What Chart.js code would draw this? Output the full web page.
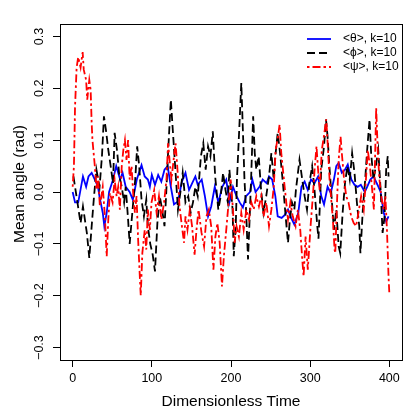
<!DOCTYPE html>
<html>
<head>
<meta charset="utf-8">
<script src="https://cdn.jsdelivr.net/npm/chart.js@4.4.1/dist/chart.umd.min.js"></script>
<style>
  body { margin: 0; background: #fff; }
  canvas { display: block; }
</style>
</head>
<body>
<canvas id="chart" width="415" height="415"></canvas>
<script>
const seriesNames = ['<θ>, k=10', '<ϕ>, k=10', '<ψ>, k=10'];
const xTitle = 'Dimensionless Time';
const yTitle = 'Mean angle (rad)';

// <theta>, k=10 (blue, solid)
const thetaTime = [0, 3, 7, 13, 17, 20, 24, 28, 32, 34,
    38, 40, 43, 46, 51, 55, 60, 63, 67, 72,
    76, 81, 87, 91, 95, 97.5, 100, 104, 108, 112,
    116, 120, 124, 128, 133, 138, 142.5, 147, 151, 155,
    158, 163, 167, 171, 175, 179.5, 184, 189, 194, 198,
    202.5, 207, 211, 215, 219, 224, 227, 231, 236, 240,
    245, 248, 252, 256, 259, 264, 268, 272, 276, 280,
    285, 289, 293, 297, 301, 305.5, 310, 314, 317.5, 322,
    326, 330, 333, 336, 340, 344, 347.5, 352, 356, 360,
    364, 369, 372, 376, 380, 385, 389, 393, 396, 399];
const thetaValues = [0.00, -0.02, -0.02, 0.03, 0.01, 0.03, 0.037, 0.024, 0.01, -0.01,
    -0.04, -0.066, -0.04, 0.0, 0.024, 0.05, 0.024, 0.037, 0.01, 0.0,
    -0.015, 0.024, 0.052, 0.03, 0.024, 0.01, 0.033, 0.014, 0.033, 0.02,
    0.043, 0.05, 0.01, -0.024, -0.018, 0.02, 0.037, 0.004, 0.017, 0.03,
    0.014, 0.024, -0.008, -0.047, -0.028, 0.01, -0.02, 0.01, 0.024, -0.02,
    0.01, -0.008, -0.02, -0.03, -0.008, 0.0, 0.024, 0.0, 0.01, 0.024,
    0.017, 0.03, 0.024, -0.008, -0.047, -0.05, -0.044, -0.034, -0.05, -0.063,
    -0.04, 0.01, 0.02, 0.004, 0.024, 0.017, 0.03, -0.008, -0.024, 0.01,
    -0.002, 0.024, 0.05, 0.056, 0.037, 0.043, 0.053, 0.024, 0.014, 0.01,
    0.014, 0.0, 0.01, 0.024, 0.03, 0.014, 0.0, -0.04, -0.057, -0.047];

// <phi>, k=10 (black, dashed)
const phiTime = [1, 4, 10, 13, 18, 21, 24, 27, 30, 34,
    37, 39.5, 42, 45, 48, 51, 53, 56, 59, 62,
    65, 67, 70, 72, 76, 79, 81.5, 84, 87, 90,
    93, 95, 98, 101, 104, 107, 110, 113, 116, 118,
    120.5, 124, 127, 130, 133, 136.5, 139, 142.5, 146, 149,
    152, 155, 158, 162, 165, 168, 171, 174, 177, 180,
    184, 187, 190, 193, 196, 198, 202, 203.5, 206, 207.5,
    210, 213, 215, 217, 219, 221.5, 223.5, 225.5, 228, 230,
    232, 235, 238, 241, 244.5, 248, 251, 254, 256, 259,
    262, 266, 269, 272, 274, 277, 280, 282, 286.5, 290,
    293, 296, 299, 302.5, 305.5, 309, 310.5, 312, 314, 317.5,
    320, 322, 324, 327, 330, 333, 336, 338, 341, 344,
    347, 350, 353, 356, 359, 362, 363.5, 366.5, 369.5, 372,
    375, 377, 380, 383, 386, 389, 391.5, 394, 396, 398, 399];
const phiValues = [0.03, 0.0, -0.06, -0.028, -0.08, -0.127, -0.066, -0.008, 0.043, 0.01,
    0.069, 0.146, 0.12, 0.081, 0.05, 0.017, 0.114, 0.081, 0.03, 0.01,
    -0.02, 0.01, -0.053, -0.1, -0.028, 0.024, 0.088, 0.05, -0.015, -0.047,
    -0.015, -0.066, -0.1, -0.12, -0.153, -0.06, -0.008, -0.034, -0.066, -0.008,
    0.075, 0.178, 0.107, 0.037, -0.034, 0.004, 0.037, -0.02, -0.008, -0.04,
    -0.02, 0.01, -0.008, 0.069, 0.094, 0.043, 0.088, 0.069, 0.117, 0.03,
    -0.034, -0.008, 0.037, 0.004, -0.02, 0.043, -0.034, -0.124, -0.066, 0.024,
    0.107, 0.21, 0.12, 0.024, -0.034, -0.13, -0.053, 0.03, 0.146, 0.075,
    0.043, 0.069, 0.004, -0.04, -0.008, 0.03, 0.075, 0.024, 0.069, 0.114,
    0.075, 0.01, -0.047, -0.098, -0.06, -0.02, -0.034, 0.004, 0.062, 0.024,
    -0.008, -0.034, 0.017, 0.05, 0.004, -0.066, -0.09, -0.034, 0.043, 0.088,
    0.14, 0.107, 0.056, -0.008, -0.073, -0.034, -0.105, -0.118, -0.04, 0.017,
    0.05, 0.024, 0.075, 0.037, -0.02, -0.066, -0.118, -0.034, 0.024, 0.081,
    0.14, 0.075, 0.024, 0.05, 0.081, 0.004, -0.079, -0.047, 0.043, 0.069, 0.03];

// <psi>, k=10 (red, dot-dash)
const psiTime = [0, 1.6, 3, 5, 7, 10, 12.6, 14, 17, 18.4,
    21, 22.7, 24, 25, 28, 30, 32, 34.4, 38, 40.7,
    43, 45, 47, 50.4, 53, 55.5, 57.5, 59.6, 62, 64,
    66, 68, 70, 72, 74.4, 76.4, 78.6, 80.7, 82.7, 85,
    86, 88, 91, 93, 95, 97.5, 99.6, 103, 106, 109,
    112, 115.5, 118.5, 120.5, 122.7, 124.8, 128, 130, 132.4, 135,
    138, 140.7, 142.5, 145, 148, 150.8, 154, 156.4, 159, 162.7,
    166, 169, 172, 175, 177.8, 180.3, 182.8, 185.7, 188.6, 191,
    194, 197, 199.6, 202.5, 204.6, 207, 210, 213, 216, 219.4,
    222.7, 225.7, 228.6, 232, 235.3, 238.3, 241.2, 244.6, 248, 251,
    254, 256.4, 259.3, 261.4, 263.5, 265.6, 269, 272, 275, 278,
    281.6, 284.5, 287.5, 290, 291.7, 294.2, 297, 300.5, 303.4, 305.6,
    308, 310, 312, 314.7, 317.3, 320.3, 322.3, 324.5, 326.6, 328.7,
    330.8, 331.7, 334.2, 336, 338.4, 340, 342.5, 345.5, 348.4, 351.8,
    355, 358, 361, 364.4, 367.7, 370.7, 372.7, 375, 378, 380.5,
    382.3, 383.4, 385.5, 387.5, 390.4, 393, 395, 397, 399, 400];
const psiValues = [0.01, 0.05, 0.165, 0.24, 0.26, 0.24, 0.27, 0.236, 0.216, 0.178,
    0.216, 0.197, 0.133, 0.1, 0.05, 0.004, 0.03, -0.028, 0.01, -0.047,
    -0.124, -0.053, -0.002, -0.02, 0.024, -0.008, 0.01, -0.034, 0.05, 0.081,
    0.1, 0.062, 0.1, 0.024, 0.05, -0.002, -0.04, -0.008, -0.092, -0.169,
    -0.2, -0.118, -0.073, -0.111, -0.034, -0.073, -0.02, 0.004, -0.04, -0.008,
    -0.053, -0.02, 0.024, 0.094, 0.056, 0.024, 0.069, 0.094, 0.043, -0.028,
    -0.066, -0.098, -0.047, -0.073, -0.034, -0.066, -0.121, -0.073, -0.034, -0.078,
    -0.105, -0.047, -0.034, -0.066, -0.15, -0.086, -0.06, -0.098, -0.182, -0.124,
    -0.073, -0.02, 0.024, -0.034, -0.098, -0.066, -0.086, -0.04, -0.073, -0.034,
    -0.053, -0.02, -0.034, -0.008, -0.028, -0.008, -0.047, -0.02, -0.066, -0.034,
    0.01, 0.081, 0.107, 0.13, 0.075, 0.043, -0.008, -0.053, -0.02, -0.047,
    -0.066, -0.034, -0.073, -0.13, -0.163, -0.086, -0.15, -0.066, -0.008, 0.043,
    0.088, 0.043, 0.004, 0.081, 0.107, 0.14, 0.088, 0.024, -0.015, -0.053,
    -0.111, -0.118, -0.008, 0.062, 0.107, 0.075, 0.03, -0.008, -0.02, -0.047,
    -0.06, -0.066, -0.04, -0.008, -0.034, 0.03, 0.081, 0.056, 0.01, -0.034,
    0.088, 0.162, 0.075, 0.024, -0.015, -0.034, -0.008, -0.073, -0.163, -0.195];

const fontFamily = '"Liberation Sans", Arial, Helvetica, sans-serif';

function toPoints(times, values) {
    return times.map((t, i) => ({x: t, y: values[i]}));
}

// R style box, rotated y tick labels, y title and legend
const rStylePlugin = {
    id: 'rStyle',
    afterDraw(chart) {
        const ctx = chart.ctx;
        const area = chart.chartArea;
        const yScale = chart.scales.y;
        ctx.save();
        ctx.strokeStyle = '#000';
        ctx.lineWidth = 1;
        ctx.setLineDash([]);
        ctx.strokeRect(area.left + 0.5, area.top + 0.5, area.right - area.left, area.bottom - area.top);

        ctx.fillStyle = '#000';
        ctx.font = `12.5px ${fontFamily}`;
        ctx.textAlign = 'center';
        ctx.textBaseline = 'middle';
        yScale.ticks.forEach(tick => {
            let v = Math.abs(tick.value) < 1e-9 ? 0 : tick.value;
            const label = v.toFixed(1).replace('-', '\u2212');
            ctx.save();
            ctx.translate(40, yScale.getPixelForValue(tick.value));
            ctx.rotate(-Math.PI / 2);
            ctx.fillText(label, 0, 0);
            ctx.restore();
        });

        ctx.font = `15.5px ${fontFamily}`;
        ctx.save();
        ctx.translate(20, 184);
        ctx.rotate(-Math.PI / 2);
        ctx.fillText(yTitle, 0, 0);
        ctx.restore();

        const rows = [39, 53, 67];
        ctx.font = `12px ${fontFamily}`;
        ctx.textAlign = 'left';
        chart.data.datasets.forEach((ds, i) => {
            ctx.strokeStyle = ds.borderColor;
            ctx.lineWidth = ds.borderWidth;
            ctx.setLineDash(ds.borderDash || []);
            ctx.beginPath();
            ctx.moveTo(307, rows[i]);
            ctx.lineTo(331, rows[i]);
            ctx.stroke();
            ctx.fillText(ds.label, 343, rows[i]);
        });
        ctx.restore();
    }
};

new Chart(document.getElementById('chart'), {
    type: 'line',
    data: {
        datasets: [
            {
                label: seriesNames[0],
                data: toPoints(thetaTime, thetaValues),
                borderColor: '#0000ff',
                borderWidth: 1.8,
                order: 3
            },
            {
                label: seriesNames[1],
                data: toPoints(phiTime, phiValues),
                borderColor: '#000000',
                borderWidth: 1.8,
                borderDash: [8, 4],
                order: 2
            },
            {
                label: seriesNames[2],
                data: toPoints(psiTime, psiValues),
                borderColor: '#ff0000',
                borderWidth: 1.8,
                borderDash: [2.5, 3, 8, 3],
                order: 1
            }
        ]
    },
    options: {
        responsive: false,
        animation: false,
        devicePixelRatio: 1,
        layout: {padding: {top: 24, right: 13, left: 0, bottom: 0}},
        elements: {
            point: {radius: 0},
            line: {tension: 0, fill: false}
        },
        plugins: {
            legend: {display: false},
            tooltip: {enabled: false}
        },
        scales: {
            x: {
                type: 'linear',
                min: -16,
                max: 416,
                afterFit: scale => { scale.height = 55; },
                border: {display: false},
                grid: {drawOnChartArea: false, drawTicks: true, tickLength: 7, color: '#000'},
                ticks: {
                    stepSize: 100,
                    includeBounds: false,
                    autoSkip: false,
                    maxRotation: 0,
                    padding: 4,
                    color: '#000',
                    font: {family: fontFamily, size: 12.5}
                },
                title: {
                    display: true,
                    text: xTitle,
                    color: '#000',
                    font: {family: fontFamily, size: 15.5},
                    padding: {top: 0, bottom: 4}
                }
            },
            y: {
                type: 'linear',
                min: -0.324,
                max: 0.324,
                afterFit: scale => { scale.width = 60; },
                border: {display: false},
                grid: {drawOnChartArea: false, drawTicks: true, tickLength: 7, color: '#000'},
                ticks: {stepSize: 0.1, includeBounds: false, display: false}
            }
        }
    },
    plugins: [rStylePlugin]
});
</script>
</body>
</html>
